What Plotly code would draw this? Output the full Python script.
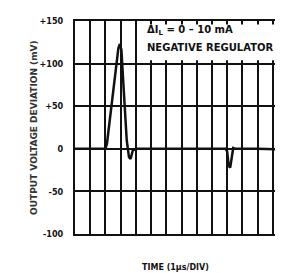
import plotly.graph_objects as go

# Data (time in divisions of 1 us, deviation in mV)
time_div = [0, 1.0, 2.0, 2.1, 2.5, 2.85, 2.95, 3.05, 3.2, 3.4, 3.55, 3.65, 3.8, 4.0, 6.0, 8.0, 9.9, 10.0, 10.1, 10.2, 10.3, 10.4, 10.55, 12.0, 14.0]
deviation_mv = [0, 0, 0, 6, 65, 118, 123, 116, 70, 10, -10, -12, -2, 0, 0, 0, 0, -3, -20, -22, -10, 1, 0, 0, -1]

ytick_vals = [-100, -50, 0, 50, 100, 150]
ytick_text = ["-100", "-50", "0", "+50", "+100", "+150"]

FONT = "DejaVu Sans, Arial"
FONT_C = "DejaVu Sans Condensed, DejaVu Sans, Arial"
INK = "#111111"

fig = go.Figure()
fig.add_trace(go.Scatter(x=time_div, y=deviation_mv, mode="lines",
                         line=dict(color=INK, width=2.5), hoverinfo="skip"))

fig.add_shape(type="rect", xref="x", yref="y", x0=4.45, x1=14, y0=104, y1=146,
              fillcolor="white", line=dict(width=0), layer="above")

fig.add_annotation(xref="x", yref="y", x=4.6, y=139, xanchor="left", yanchor="middle",
                   text="<b>ΔI<sub>L</sub> = 0 – 10 mA</b>", showarrow=False,
                   font=dict(family=FONT, size=10, color=INK))
fig.add_annotation(xref="x", yref="y", x=4.6, y=119, xanchor="left", yanchor="middle",
                   text="<b>NEGATIVE REGULATOR</b>", showarrow=False,
                   font=dict(family=FONT, size=10, color=INK))

fig.add_annotation(xref="paper", yref="paper", x=-0.228, y=0.5, textangle=-90,
                   text="<b>OUTPUT VOLTAGE DEVIATION (mV)</b>", showarrow=False,
                   font=dict(family=FONT, size=9, color="#333333"))
fig.add_annotation(xref="paper", yref="paper", x=0.47, y=-0.19,
                   text="<b>TIME (1μs/DIV)</b>", showarrow=False,
                   font=dict(family=FONT, size=8, color=INK))

fig.update_layout(
    width=283, height=273,
    margin=dict(l=67, r=1, t=13, b=47),
    paper_bgcolor="white", plot_bgcolor="white",
    showlegend=False,
    xaxis=dict(range=[0, 14], dtick=1, showticklabels=False, showgrid=True,
               gridcolor=INK, gridwidth=2, zeroline=False, showline=True,
               linecolor=INK, linewidth=2, mirror=True, ticks=""),
    yaxis=dict(range=[-100, 150], tickvals=ytick_vals, ticktext=ytick_text,
               showgrid=True, gridcolor=INK, gridwidth=2, zeroline=True,
               zerolinecolor=INK, zerolinewidth=2,
               showline=True, linecolor=INK, linewidth=2, mirror=True, ticks="",
               ticklabelstandoff=8,
               tickfont=dict(family=FONT_C, size=9, color=INK, weight="bold")),
)

fig.write_html("out.html")
